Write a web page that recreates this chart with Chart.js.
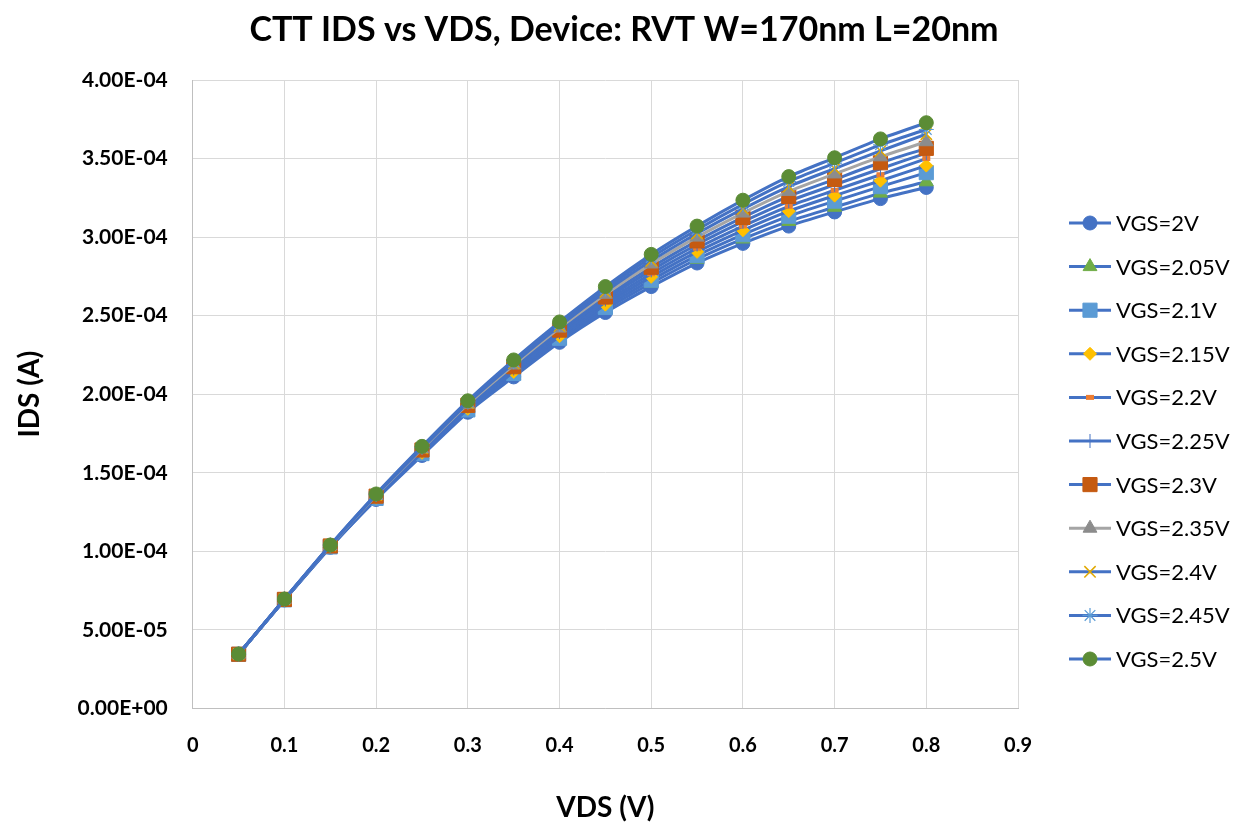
<!DOCTYPE html>
<html>
<head>
<meta charset="utf-8">
<title>CTT IDS vs VDS</title>
<script src="https://cdn.jsdelivr.net/npm/chart.js@4/dist/chart.umd.min.js"></script>
<style>
  html, body { margin: 0; padding: 0; background: #fff; }
  #wrap { width: 1234px; height: 825px; }
</style>
</head>
<body>
<div id="wrap"><canvas id="ivChart" width="1234" height="825"></canvas></div>
<script>
// VDS sweep (V)
const vds = [0.05, 0.1, 0.15, 0.2, 0.25, 0.3, 0.35, 0.4, 0.45, 0.5, 0.55, 0.6, 0.65, 0.7, 0.75, 0.8];

// IDS (A) per gate voltage
const ids_2V    = [3.44e-5, 6.90e-5, 1.025e-4, 1.330e-4, 1.610e-4, 1.885e-4, 2.110e-4, 2.330e-4, 2.520e-4, 2.685e-4, 2.835e-4, 2.960e-4, 3.070e-4, 3.160e-4, 3.245e-4, 3.316e-4];
const ids_2p05V = [3.44e-5, 6.91e-5, 1.027e-4, 1.334e-4, 1.616e-4, 1.892e-4, 2.121e-4, 2.343e-4, 2.537e-4, 2.706e-4, 2.859e-4, 2.988e-4, 3.100e-4, 3.190e-4, 3.280e-4, 3.352e-4];
const ids_2p1V  = [3.44e-5, 6.91e-5, 1.028e-4, 1.337e-4, 1.622e-4, 1.900e-4, 2.132e-4, 2.356e-4, 2.553e-4, 2.726e-4, 2.882e-4, 3.015e-4, 3.133e-4, 3.229e-4, 3.321e-4, 3.410e-4];
const ids_2p15V = [3.45e-5, 6.92e-5, 1.030e-4, 1.341e-4, 1.627e-4, 1.907e-4, 2.142e-4, 2.369e-4, 2.570e-4, 2.747e-4, 2.906e-4, 3.043e-4, 3.165e-4, 3.264e-4, 3.359e-4, 3.455e-4];
const ids_2p2V  = [3.45e-5, 6.92e-5, 1.031e-4, 1.344e-4, 1.633e-4, 1.914e-4, 2.153e-4, 2.382e-4, 2.586e-4, 2.767e-4, 2.929e-4, 3.070e-4, 3.196e-4, 3.298e-4, 3.397e-4, 3.500e-4];
const ids_2p25V = [3.45e-5, 6.93e-5, 1.033e-4, 1.348e-4, 1.639e-4, 1.922e-4, 2.164e-4, 2.395e-4, 2.603e-4, 2.788e-4, 2.953e-4, 3.098e-4, 3.228e-4, 3.333e-4, 3.435e-4, 3.535e-4];
const ids_2p3V  = [3.45e-5, 6.94e-5, 1.034e-4, 1.351e-4, 1.645e-4, 1.929e-4, 2.175e-4, 2.408e-4, 2.619e-4, 2.808e-4, 2.976e-4, 3.125e-4, 3.259e-4, 3.367e-4, 3.473e-4, 3.565e-4];
const ids_2p35V = [3.45e-5, 6.94e-5, 1.036e-4, 1.355e-4, 1.651e-4, 1.936e-4, 2.186e-4, 2.421e-4, 2.636e-4, 2.829e-4, 3.000e-4, 3.153e-4, 3.291e-4, 3.402e-4, 3.511e-4, 3.607e-4];
const ids_2p4V  = [3.46e-5, 6.95e-5, 1.037e-4, 1.358e-4, 1.656e-4, 1.943e-4, 2.196e-4, 2.434e-4, 2.652e-4, 2.849e-4, 3.023e-4, 3.180e-4, 3.322e-4, 3.436e-4, 3.549e-4, 3.655e-4];
const ids_2p45V = [3.46e-5, 6.95e-5, 1.039e-4, 1.362e-4, 1.662e-4, 1.951e-4, 2.207e-4, 2.447e-4, 2.669e-4, 2.870e-4, 3.047e-4, 3.208e-4, 3.354e-4, 3.471e-4, 3.587e-4, 3.685e-4];
const ids_2p5V  = [3.46e-5, 6.96e-5, 1.040e-4, 1.365e-4, 1.668e-4, 1.958e-4, 2.218e-4, 2.460e-4, 2.685e-4, 2.890e-4, 3.070e-4, 3.235e-4, 3.385e-4, 3.505e-4, 3.625e-4, 3.728e-4];

const seriesLabels = ['VGS=2V', 'VGS=2.05V', 'VGS=2.1V', 'VGS=2.15V', 'VGS=2.2V', 'VGS=2.25V',
                      'VGS=2.3V', 'VGS=2.35V', 'VGS=2.4V', 'VGS=2.45V', 'VGS=2.5V'];
const seriesValues = [ids_2V, ids_2p05V, ids_2p1V, ids_2p15V, ids_2p2V, ids_2p25V,
                      ids_2p3V, ids_2p35V, ids_2p4V, ids_2p45V, ids_2p5V];

const chartTitle = 'CTT IDS vs VDS, Device: RVT W=170nm L=20nm';

const FONT = 'Lato, "Open Sans", sans-serif';
const BLUE = '#4472C4';

// marker look per series (Excel default-ish)
const markers = [
    { style: 'circle',   color: '#4472C4', radius: 7,  bw: 1 },
    { style: 'triangle', color: '#70AD47', radius: 8,  bw: 1 },
    { style: 'rect',     color: '#5B9BD5', radius: 10, bw: 1 },
    { style: 'rectRot',  color: '#FFC000', radius: 6.5, bw: 1 },
    { style: 'line',     color: '#ED7D31', radius: 4,  bw: 5 },
    { style: 'cross',    color: '#4472C4', radius: 7,  bw: 1 },
    { style: 'rect',     color: '#C55A11', radius: 10, bw: 1 },
    { style: 'triangle', color: '#8C8C8C', radius: 8,  bw: 1 },
    { style: 'crossRot', color: '#E0A800', radius: 8,  bw: 1.5 },
    { style: 'star',     color: '#5B9BD5', radius: 7.5, bw: 1.2 },
    { style: 'circle',   color: '#5B8C35', radius: 7,  bw: 1 }
];

function sciLabel(v) {
    // Excel style 0.00E+00
    const parts = Number(v).toExponential(2).split('e');
    const exp = parseInt(parts[1], 10);
    const sign = exp < 0 ? '-' : '+';
    return parts[0] + 'E' + sign + String(Math.abs(exp)).padStart(2, '0');
}

const datasets = seriesValues.map((vals, i) => {
    const m = markers[i];
    return {
        label: seriesLabels[i],
        data: vds.map((x, j) => ({ x: x, y: vals[j] })),
        borderColor: i === 7 ? '#A5A5A5' : BLUE,
        borderWidth: 3,
        tension: 0.25,
        pointStyle: m.style,
        pointRadius: m.radius,
        pointBackgroundColor: m.color,
        pointBorderColor: m.color,
        pointBorderWidth: m.bw,
        order: 10 - i // later series drawn on top
    };
});

// title centred on the whole canvas, like the Excel chart
const canvasTitle = {
    id: 'canvasTitle',
    afterDraw(chart) {
        const ctx = chart.ctx;
        ctx.save();
        ctx.fillStyle = '#000';
        ctx.font = 'bold 34px ' + FONT;
        ctx.textAlign = 'center';
        ctx.textBaseline = 'middle';
        ctx.fillText(chartTitle, 624, 30);
        ctx.restore();
    }
};

// legend drawn by hand: line through marker, like Excel
const lineLegend = {
    id: 'lineLegend',
    afterDraw(chart) {
        const ctx = chart.ctx;
        const x0 = 1069, x1 = 1111, xm = 1090, xt = 1116;
        const y0 = 223, dy = 43.6;
        ctx.save();
        chart.data.datasets.forEach((ds, i) => {
            const y = y0 + i * dy;
            ctx.beginPath();
            ctx.strokeStyle = ds.borderColor;
            ctx.lineWidth = 3;
            ctx.moveTo(x0, y);
            ctx.lineTo(x1, y);
            ctx.stroke();

            ctx.fillStyle = ds.pointBackgroundColor;
            ctx.strokeStyle = ds.pointBorderColor;
            ctx.lineWidth = ds.pointBorderWidth;
            Chart.helpers.drawPoint(ctx, {
                pointStyle: ds.pointStyle,
                radius: ds.pointRadius,
                rotation: 0,
                borderWidth: ds.pointBorderWidth
            }, xm, y);

            ctx.fillStyle = '#000';
            ctx.font = '22px ' + FONT;
            ctx.textBaseline = 'middle';
            ctx.textAlign = 'left';
            ctx.fillText(ds.label, xt, y + 1);
        });
        ctx.restore();
    }
};

const config = {
    type: 'line',
    data: { datasets: datasets },
    options: {
        responsive: false,
        animation: false,
        layout: { padding: { left: 0, right: 216, top: 80, bottom: 0 } },
        plugins: {
            legend: { display: false },
            tooltip: { enabled: false },
            title: { display: false }
        },
        scales: {
            x: {
                type: 'linear',
                min: 0,
                max: 0.9,
                ticks: {
                    stepSize: 0.1,
                    color: '#000',
                    font: { family: FONT, size: 20, weight: 'bold' },
                    padding: 25,
                    callback: v => String(Number(v.toFixed(1)))
                },
                grid: { color: '#D9D9D9', lineWidth: 1, drawTicks: false },
                border: { color: '#BFBFBF', width: 1 },
                title: {
                    display: true,
                    text: 'VDS (V)',
                    color: '#000',
                    font: { family: FONT, size: 28, weight: 'bold' },
                    padding: { top: 9, bottom: 0 }
                }
            },
            y: {
                min: 0,
                max: 4e-4,
                ticks: {
                    stepSize: 5e-5,
                    color: '#000',
                    font: { family: FONT, size: 21, weight: 'bold' },
                    padding: 25,
                    callback: v => sciLabel(v)
                },
                grid: { color: '#D9D9D9', lineWidth: 1, drawTicks: false },
                border: { color: '#BFBFBF', width: 1 },
                title: {
                    display: true,
                    text: 'IDS (A)',
                    color: '#000',
                    font: { family: FONT, size: 28, weight: 'bold' },
                    padding: { top: 13, bottom: 6 }
                }
            }
        }
    },
    plugins: [canvasTitle, lineLegend]
};

const ctx = document.getElementById('ivChart').getContext('2d');
new Chart(ctx, config);
</script>
</body>
</html>
